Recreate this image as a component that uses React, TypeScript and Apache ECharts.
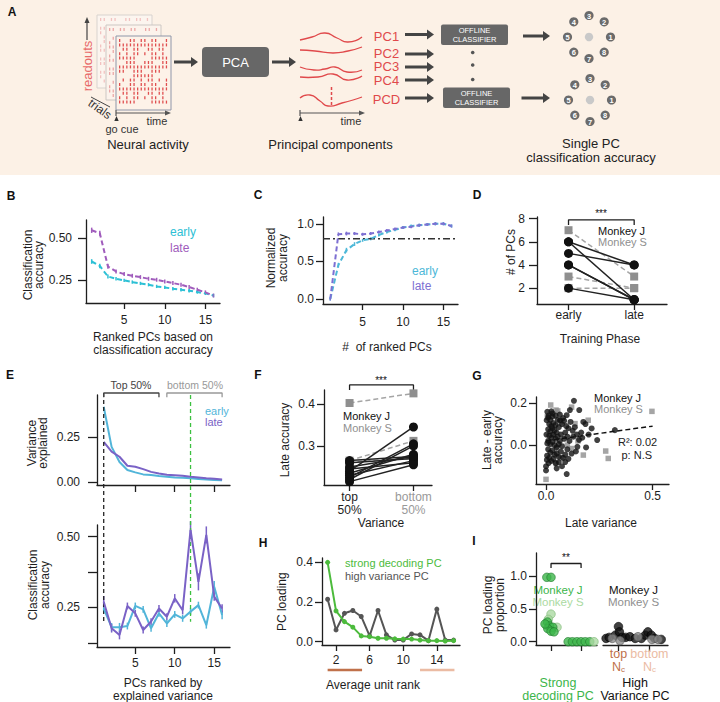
import React, { useEffect, useRef } from "react";
import * as echarts from "echarts";

const FONT = "'Liberation Sans', Arial, Helvetica, sans-serif";
const INK = "#1e1e1e";

// ---------------- Panel B: ranked by classification accuracy ----------------
const bRank = [1, 2, 3, 4, 5, 6, 7, 8, 9, 10, 11, 12, 13, 14, 15, 16];
const bEarly = [0.36, 0.333, 0.27, 0.256, 0.246, 0.236, 0.228, 0.22, 0.21, 0.204, 0.196, 0.19, 0.184, 0.176, 0.168, 0.155];
const bLate = [0.548, 0.53, 0.33, 0.3, 0.284, 0.274, 0.266, 0.256, 0.25, 0.24, 0.23, 0.22, 0.206, 0.19, 0.174, 0.155];
const bEarlyErr = [0.014, 0.013, 0.012, 0.01, 0.01, 0.01, 0.01, 0.01, 0.01, 0.01, 0.01, 0.01, 0.01, 0.01, 0.01, 0.01];
const bLateErr = [0.016, 0.015, 0.014, 0.012, 0.012, 0.012, 0.012, 0.012, 0.012, 0.012, 0.012, 0.012, 0.012, 0.012, 0.012, 0.012];

// ---------------- Panel C: normalized accuracy vs # ranked PCs ----------------
const cRank = [1, 2, 3, 4, 5, 6, 7, 8, 9, 10, 11, 12, 13, 14, 15, 16];
const cEarly = [0.0, 0.45, 0.65, 0.73, 0.78, 0.8, 0.85, 0.89, 0.92, 0.95, 0.97, 0.98, 0.99, 1.0, 1.0, 0.97];
const cLate = [0.0, 0.86, 0.87, 0.87, 0.86, 0.87, 0.89, 0.91, 0.93, 0.95, 0.96, 0.98, 0.99, 1.0, 1.0, 0.97];
const cEarlyErr = [0.02, 0.03, 0.03, 0.025, 0.02, 0.02, 0.02, 0.02, 0.02, 0.02, 0.02, 0.02, 0.02, 0.02, 0.02, 0.02];
const cLateErr = [0.02, 0.025, 0.025, 0.02, 0.02, 0.02, 0.02, 0.02, 0.02, 0.02, 0.02, 0.02, 0.02, 0.02, 0.02, 0.02];
const cThreshold = [0.8, 0.8];

// ---------------- Panel D: # of PCs, early vs late ----------------
const dPhases = ["early", "late"];
const dJEarly = [6, 6, 5, 4, 4, 2];
const dJLate = [4, 1, 4, 1, 1, 1];
const dSEarly = [7, 3, 2];
const dSLate = [3, 2, 2];

// ---------------- Panel E: ranked by explained variance ----------------
const eRank = [1, 2, 3, 4, 5, 6, 7, 8, 9, 10, 11, 12, 13, 14, 15, 16];
const eVarEarly = [0.417, 0.194, 0.11, 0.065, 0.052, 0.041, 0.037, 0.032, 0.028, 0.024, 0.022, 0.02, 0.016, 0.012, 0.01, 0.008];
const eVarLate = [0.222, 0.167, 0.139, 0.089, 0.083, 0.07, 0.055, 0.046, 0.039, 0.036, 0.033, 0.028, 0.024, 0.019, 0.017, 0.013];
const eAccEarly = [0.246, 0.18, 0.18, 0.184, 0.255, 0.243, 0.176, 0.229, 0.193, 0.225, 0.211, 0.235, 0.258, 0.187, 0.323, 0.223];
const eAccLate = [0.27, 0.176, 0.152, 0.255, 0.229, 0.17, 0.2, 0.246, 0.217, 0.282, 0.24, 0.524, 0.34, 0.506, 0.288, 0.246];
const eAccEarlyErr = [0.015, 0.015, 0.015, 0.012, 0.012, 0.012, 0.012, 0.012, 0.012, 0.012, 0.012, 0.012, 0.012, 0.012, 0.02, 0.015];
const eAccLateErr = [0.02, 0.015, 0.015, 0.012, 0.012, 0.012, 0.012, 0.012, 0.012, 0.015, 0.015, 0.03, 0.03, 0.03, 0.015, 0.015];
const eTopHalf = [1, 8];
const eBottomHalf = [9, 16];
const eMarkFirst = 1;
const eMarkStrong = 12;

// ---------------- Panel F: late accuracy, top vs bottom 50% ----------------
const fJTop = [0.24, 0.225, 0.22, 0.235, 0.25, 0.26, 0.23, 0.245, 0.215, 0.265];
const fJBottom = [0.345, 0.305, 0.3, 0.28, 0.275, 0.27, 0.265, 0.26, 0.255, 0.275];
const fSTop = [0.402, 0.265, 0.262];
const fSBottom = [0.425, 0.312, 0.27];

// ---------------- Panel G: late - early accuracy vs late variance ----------------
const gMonkeyJ = [
  [0.131, 0.21], [0.112, 0.166], [0.156, 0.166], [0.097, 0.142], [0.066, 0.118], [0.08, 0.128], [0.006, 0.158],
  [0.003, 0.118], [0.006, 0.008], [0.0, -0.1], [0.0, -0.12], [0.097, -0.137], [0.05, -0.11], [0.175, 0.11],
  [0.185, 0.1], [0.214, 0.079], [0.24, 0.024], [0.323, 0.071], [0.128, 0.04], [0.147, -0.008], [0.188, -0.011],
  [0.125, 0.068], [0.01, 0.13], [0.02, 0.12], [0.03, 0.135], [0.015, 0.1], [0.025, 0.09], [0.035, 0.105],
  [0.045, 0.095], [0.01, 0.075], [0.02, 0.065], [0.03, 0.08], [0.04, 0.07], [0.05, 0.06], [0.06, 0.085],
  [0.07, 0.05], [0.015, 0.045], [0.025, 0.035], [0.035, 0.05], [0.045, 0.03], [0.055, 0.04], [0.065, 0.02],
  [0.01, 0.02], [0.02, 0.005], [0.03, 0.015], [0.04, 0.0], [0.05, -0.01], [0.06, 0.005], [0.075, -0.005],
  [0.085, 0.03], [0.09, 0.06], [0.1, 0.04], [0.11, 0.02], [0.1, -0.02], [0.01, -0.02], [0.02, -0.035],
  [0.03, -0.025], [0.04, -0.045], [0.05, -0.04], [0.06, -0.055], [0.07, -0.03], [0.08, -0.06], [0.09, -0.045],
  [0.015, -0.06], [0.025, -0.075], [0.035, -0.065], [0.045, -0.085], [0.06, -0.08], [0.075, -0.1], [0.005, -0.05],
  [0.012, -0.085], [0.03, 0.15], [0.045, 0.14], [0.055, 0.12], [0.065, 0.145], [0.075, 0.1], [0.085, 0.115],
  [0.095, 0.09], [0.105, 0.08], [0.115, 0.11], [0.135, 0.085], [0.145, 0.05], [0.155, 0.025], [0.165, 0.06],
  [0.12, -0.04], [0.14, -0.03], [0.09, -0.08], [0.105, -0.065], [0.002, 0.05], [0.004, -0.07], [0.17, 0.035],
  [0.2, 0.05], [0.025, 0.16], [0.012, 0.14],
];
const gMonkeyS = [
  [0.0, -0.162], [0.022, 0.19], [0.047, 0.166], [0.055, 0.162], [0.12, 0.18], [0.198, 0.118], [0.28, -0.028],
  [0.292, -0.063], [0.175, -0.047], [0.12, -0.016], [0.047, -0.087], [0.497, 0.16], [0.006, 0.134], [0.066, 0.11],
  [0.136, 0.102], [0.05, -0.016], [0.03, 0.05], [0.07, -0.06], [0.1, 0.0], [0.15, 0.02],
];
const gFit = [[0.0, 0.021], [0.5, 0.09]];

// ---------------- Panel H: PC loading vs average unit rank ----------------
const hRank = [1, 2, 3, 4, 5, 6, 7, 8, 9, 10, 11, 12, 13, 14, 15, 16];
const hStrong = [0.4, 0.155, 0.101, 0.073, 0.029, 0.025, 0.017, 0.017, 0.014, 0.013, 0.013, 0.008, 0.005, 0.005, 0.003, 0.005];
const hHighVar = [0.214, 0.059, 0.143, 0.157, 0.127, 0.029, 0.157, 0.034, 0.008, 0.008, 0.039, 0.034, 0.005, 0.164, 0.008, 0.008];
const hTopUnits = [1, 5.1];
const hBottomUnits = [12, 16.1];

// ---------------- Panel I: PC loading proportion ----------------
const iStrongTopJ = [[-0.14, 0.98], [0.0, 0.98], [-0.12, 0.3], [-0.05, 0.24], [0.06, 0.22], [-0.11, 0.2], [0.0, 0.16], [0.1, 0.15], [-0.2, 0.27]];
const iStrongTopS = [[0.0, 0.42], [-0.09, 0.34], [0.2, 0.22], [-0.15, 0.25]];
const iStrongBottomJ = [[0.57, 0], [0.71, 0], [0.86, 0], [1.0, 0], [1.14, 0], [1.29, 0]];
const iStrongBottomS = [[1.43, 0]];
const iHighJ = [
  [-0.4, 0.05], [-0.3, 0.066], [-0.1, 0.1], [0.0, 0.23], [0.03, 0.15], [0.12, 0.066], [0.23, 0.066], [0.37, 0.076],
  [0.54, 0.05], [0.74, 0.05], [0.87, 0.1], [0.95, 0.15], [1.06, 0.1], [1.17, 0.05], [1.38, 0.035],
];
const iHighS = [[-0.2, 0.05], [0.05, 0.015], [0.63, 0.076], [1.08, 0.035], [1.28, 0.035]];

// ---------------- helpers ----------------
type AxSpec = {
  min: number; max: number; ticks: number[]; labels?: number[];
  fmt?: (v: number) => string; margin?: number; rich?: any; tickLen?: number;
};

function mkX(gi: number, s: AxSpec) {
  const hasLabels = !!(s.labels && s.labels.length);
  return {
    gridIndex: gi, type: "value", min: s.min, max: s.max, position: "bottom",
    axisLine: { show: true, onZero: false, lineStyle: { color: INK, width: 1.3 } },
    axisTick: { show: s.ticks.length > 0, length: s.tickLen ?? 6, customValues: s.ticks, lineStyle: { color: INK, width: 1.3 } },
    axisLabel: {
      show: hasLabels, customValues: hasLabels ? s.labels : undefined, formatter: s.fmt,
      margin: s.margin ?? 8, color: INK, fontSize: 12, fontFamily: FONT, rich: s.rich,
    },
    splitLine: { show: false },
  };
}
function mkY(gi: number, s: AxSpec) {
  const hasLabels = !!(s.labels && s.labels.length);
  return {
    gridIndex: gi, type: "value", min: s.min, max: s.max, position: "left",
    axisLine: { show: true, onZero: false, lineStyle: { color: INK, width: 1.3 } },
    axisTick: { show: s.ticks.length > 0, length: s.tickLen ?? 6, customValues: s.ticks, lineStyle: { color: INK, width: 1.3 } },
    axisLabel: {
      show: hasLabels, customValues: hasLabels ? s.labels : undefined, formatter: s.fmt,
      margin: s.margin ?? 10, color: INK, fontSize: 12, fontFamily: FONT,
    },
    splitLine: { show: false },
  };
}

const f1 = (v: number) => v.toFixed(1);
const f2 = (v: number) => v.toFixed(2);

function lineS(gi: number, data: number[][], color: string, width = 2, dash: any = "solid", extra: any = {}) {
  return {
    type: "line", xAxisIndex: gi, yAxisIndex: gi, data, showSymbol: false, symbol: "none",
    lineStyle: { color, width, type: dash }, itemStyle: { color }, silent: true, ...extra,
  };
}
function errS(gi: number, xs: number[], ys: number[], es: number[], color: string, width = 1.5) {
  return {
    type: "custom", xAxisIndex: gi, yAxisIndex: gi, silent: true,
    data: xs.map((x, i) => [x, ys[i], es[i]]),
    encode: { x: 0, y: 1 },
    renderItem: (_p: any, api: any) => {
      const x = api.value(0), y = api.value(1), e = api.value(2);
      const a = api.coord([x, y - e]);
      const b = api.coord([x, y + e]);
      return { type: "line", shape: { x1: a[0], y1: a[1], x2: b[0], y2: b[1] }, style: { stroke: color, lineWidth: width } };
    },
  };
}
function pairS(gi: number, a: number[], b: number[], color: string, lineColor: string, symbol: string, size: number, dash: any) {
  return a.map((v, i) => ({
    type: "line", xAxisIndex: gi, yAxisIndex: gi, data: [[0, v], [1, b[i]]], symbol, symbolSize: size,
    showSymbol: true, lineStyle: { color: lineColor, width: 1.5, type: dash }, itemStyle: { color, opacity: 1 }, silent: true,
  }));
}
function txt(x: number, y: number, text: string, color = INK, size = 12, align = "center", extra: any = {}) {
  return {
    type: "text", x, y, silent: true, ...extra,
    style: { text, fill: color, fontSize: size, fontFamily: FONT, align, verticalAlign: "middle", lineHeight: size, ...(extra.style || {}) },
  };
}
function vtxt(x: number, y: number, text: string, size = 12, lh = 12) {
  return {
    type: "text", x, y, rotation: Math.PI / 2, silent: true,
    style: { text, fill: INK, fontSize: size, fontFamily: FONT, align: "center", verticalAlign: "middle", lineHeight: lh },
  };
}
function bold(x: number, y: number, t: string) {
  return { type: "text", x, y, silent: true, style: { text: t, fill: "#111", fontSize: 12, fontWeight: "bold", fontFamily: FONT, align: "center", verticalAlign: "middle" } };
}
function hArrow(x1: number, x2: number, y: number, color = "#444", w = 3, head = 7) {
  return [
    { type: "line", silent: true, shape: { x1, y1: y, x2: x2 - head + 1, y2: y }, style: { stroke: color, lineWidth: w } },
    { type: "polygon", silent: true, shape: { points: [[x2 - head, y - head * 0.7], [x2, y], [x2 - head, y + head * 0.7]] }, style: { fill: color } },
  ];
}
function raster(x0: number, y0: number, w: number, h: number, color: string, seed: number) {
  const els: any[] = [];
  const rows = Math.floor((h - 4) / 4.4);
  const cols = Math.floor((w - 4) / 3.6);
  for (let r = 0; r < rows; r++) {
    for (let c = 0; c < cols; c++) {
      const v = (r * 37 + c * 23 + seed * 11 + r * c * 7) % 10;
      if (v < 6) {
        els.push({ type: "rect", silent: true, shape: { x: x0 + 3 + c * 3.6, y: y0 + 3 + r * 4.4, width: 1.3, height: 3 }, style: { fill: color } });
      }
    }
  }
  return els;
}
function targets(cx: number, cy: number) {
  const els: any[] = [{ type: "circle", silent: true, shape: { cx, cy, r: 4.2 }, style: { fill: "#c9c9c9" } }];
  for (let k = 1; k <= 8; k++) {
    const a = ((k - 1) * Math.PI) / 4;
    const x = cx + 21.5 * Math.cos(a);
    const y = cy - 21.5 * Math.sin(a);
    els.push({ type: "circle", silent: true, shape: { cx: x, cy: y, r: 4.6 }, style: { fill: "#6b6b6b" } });
    els.push({ type: "text", silent: true, x, y: y + 0.5, style: { text: String(k), fill: "#fff", fontSize: 7.5, fontWeight: "bold", fontFamily: FONT, align: "center", verticalAlign: "middle" } });
  }
  return els;
}

function buildOption() {
  const RED = "#e0494b";
  const graphic: any[] = [];
  // ---------- Panel A schematic ----------
  graphic.push({ type: "rect", silent: true, z: -1, shape: { x: 0, y: 0, width: 720, height: 175 }, style: { fill: "#fcf1e6" } });
  graphic.push(bold(12, 12, "A"));
  graphic.push({ type: "rect", silent: true, shape: { x: 97, y: 15, width: 55, height: 73 }, style: { fill: "#fcf5ef", stroke: "#d8d3cf", lineWidth: 1 } });
  graphic.push(...raster(97, 15, 55, 73, "#f2c2c0", 1));
  graphic.push({ type: "rect", silent: true, shape: { x: 106, y: 25, width: 55, height: 75 }, style: { fill: "#fcf3ec", stroke: "#ccc7c3", lineWidth: 1 } });
  graphic.push(...raster(106, 25, 55, 75, "#eba7a6", 2));
  graphic.push({ type: "rect", silent: true, shape: { x: 116, y: 36, width: 55, height: 74 }, style: { fill: "#fdf2e8", stroke: "#8e96a9", lineWidth: 1 } });
  graphic.push(...raster(116, 36, 55, 74, "#e04f50", 3));
  graphic.push({ type: "text", silent: true, x: 87, y: 66, rotation: Math.PI / 2, style: { text: "readouts", fill: "#e86a6a", fontSize: 13, fontFamily: FONT, align: "center", verticalAlign: "middle" } });
  graphic.push({ type: "line", silent: true, shape: { x1: 87, y1: 40, x2: 87, y2: 22 }, style: { stroke: "#444", lineWidth: 1.2 } });
  graphic.push({ type: "polygon", silent: true, shape: { points: [[84.5, 23], [87, 17], [89.5, 23]] }, style: { fill: "#444" } });
  graphic.push({ type: "line", silent: true, shape: { x1: 91, y1: 97, x2: 110, y2: 107 }, style: { stroke: "#444", lineWidth: 1 } });
  graphic.push({ type: "text", silent: true, x: 100, y: 109, rotation: -0.62, style: { text: "trials", fill: "#333", fontSize: 12, fontFamily: FONT, align: "center", verticalAlign: "middle" } });
  graphic.push({ type: "line", silent: true, shape: { x1: 116, y1: 113, x2: 167, y2: 113 }, style: { stroke: "#555", lineWidth: 1.2 } });
  graphic.push({ type: "line", silent: true, shape: { x1: 116, y1: 110, x2: 116, y2: 116 }, style: { stroke: "#555", lineWidth: 1.2 } });
  graphic.push({ type: "polygon", silent: true, shape: { points: [[165, 110.5], [171, 113], [165, 115.5]] }, style: { fill: "#555" } });
  graphic.push({ type: "polygon", silent: true, shape: { points: [[114.3, 121], [116.5, 116], [118.7, 121]] }, style: { fill: "#333" } });
  graphic.push(txt(157, 121, "time", "#333", 11));
  graphic.push(txt(122, 128.5, "go cue", "#333", 11));
  graphic.push(txt(148, 144, "Neural activity", "#222", 13));
  graphic.push(...hArrow(174, 198, 62));
  graphic.push({ type: "rect", silent: true, shape: { x: 202, y: 47, width: 67, height: 30, r: 4 }, style: { fill: "#676767" } });
  graphic.push(txt(235.5, 62, "PCA", "#fff", 13));
  graphic.push(...hArrow(272, 296, 62));
  const pcCurves = [
    [[300, 40], [312, 37], [325, 33], [337, 38], [348, 42], [362, 37]],
    [[300, 50], [315, 51], [333, 53], [348, 51], [362, 47]],
    [[300, 67], [314, 70], [325, 69], [335, 67], [347, 72], [362, 70]],
    [[300, 77], [318, 77], [333, 74], [347, 80], [362, 76]],
    [[300, 98], [310, 95], [320, 101], [328, 106], [342, 103], [362, 97]],
  ];
  pcCurves.forEach((pts) => graphic.push({ type: "polyline", silent: true, shape: { points: pts, smooth: 0.6 }, style: { stroke: RED, lineWidth: 1.3, fill: null } }));
  graphic.push({ type: "line", silent: true, shape: { x1: 331.5, y1: 87, x2: 331.5, y2: 105 }, style: { stroke: RED, lineWidth: 1.5, lineDash: [3, 2] } });
  graphic.push({ type: "line", silent: true, shape: { x1: 300, y1: 113, x2: 361, y2: 113 }, style: { stroke: "#555", lineWidth: 1.2 } });
  graphic.push({ type: "line", silent: true, shape: { x1: 300, y1: 110, x2: 300, y2: 116 }, style: { stroke: "#555", lineWidth: 1.2 } });
  graphic.push({ type: "polygon", silent: true, shape: { points: [[359, 110.5], [365, 113], [359, 115.5]] }, style: { fill: "#555" } });
  graphic.push({ type: "polygon", silent: true, shape: { points: [[298.3, 121], [300.5, 116], [302.7, 121]] }, style: { fill: "#333" } });
  graphic.push(txt(351, 121, "time", "#333", 11));
  graphic.push(txt(330.5, 144, "Principal components", "#222", 13));
  const pcLabels = ["PC1", "PC2", "PC3", "PC4", "PCD"];
  const pcY = [36.5, 53, 66.5, 80, 99];
  const arrowY = [34.5, 54, 67, 80, 98];
  pcLabels.forEach((t, i) => {
    graphic.push(txt(386.5, pcY[i], t, RED, 13));
    graphic.push(...hArrow(405, 434, arrowY[i]));
  });
  [[441, 24.5], [443, 87.5]].forEach(([x, y]) => {
    graphic.push({ type: "rect", silent: true, shape: { x, y, width: 67, height: 20.5, r: 2 }, style: { fill: "#676767" } });
    graphic.push({ type: "text", silent: true, x: x + 33.5, y: y + 10.5, style: { text: "OFFLINE\nCLASSIFIER", fill: "#fff", fontSize: 7.5, fontFamily: FONT, align: "center", verticalAlign: "middle", lineHeight: 8.5 } });
  });
  [52.5, 65, 79.5].forEach((y) => graphic.push({ type: "circle", silent: true, shape: { cx: 472.7, cy: y, r: 1.8 }, style: { fill: "#555" } }));
  graphic.push(...hArrow(523, 550, 36));
  graphic.push(...hArrow(521.5, 550, 98));
  graphic.push(...targets(589, 37));
  graphic.push(...targets(590, 100));
  graphic.push(txt(591, 143.5, "Single PC", "#222", 13));
  graphic.push(txt(591, 157, "classification accuracy", "#222", 13));

  // ---------- panel letters ----------
  graphic.push(bold(11, 196, "B"), bold(258, 195, "C"), bold(477, 195, "D"), bold(10, 375, "E"), bold(258, 375, "F"), bold(477, 376, "G"), bold(263, 543, "H"), bold(474, 541, "I"));

  // ---------- axis titles and legends ----------
  const B_E = "#2cc0d5", B_L = "#a05cbc";
  const C_E = "#4db8d8", C_L = "#7d6fd2";
  const E_E = "#52b5d9", E_L = "#7a62c6";
  const GRAY = "#8f8f8f";
  const GREEN = "#4cbb3c";
  const IJ = "#3cb54a", IS = "#abdaa2";
  const BROWN = "#c0714a", SALMON = "#ebbba3";

  graphic.push(vtxt(33.5, 265, "Classification\naccuracy", 12, 11));
  graphic.push(txt(153, 337, "Ranked PCs based on"), txt(153, 350, "classification accuracy"));
  graphic.push(txt(170, 232, "early", B_E, 12, "left"), txt(170, 248, "late", B_L, 12, "left"));

  graphic.push(vtxt(277, 258, "Normalized\naccuracy", 12, 12));
  graphic.push(txt(387, 347, "#  of ranked PCs"));
  graphic.push(txt(412, 271, "early", C_E, 12, "left"), txt(412, 286, "late", C_L, 12, "left"));

  graphic.push(vtxt(511, 252, "# of PCs", 12));
  graphic.push(txt(600, 339, "Training Phase"));
  graphic.push(txt(598, 231, "Monkey J", "#111", 11, "left"), txt(598, 242, "Monkey S", GRAY, 11, "left"));
  graphic.push(txt(601, 213.5, "***", "#111", 10));

  graphic.push(vtxt(37, 443, "Variance\nexplained", 12, 11));
  graphic.push(txt(131, 385, "Top 50%", "#444", 10.5), txt(195, 385, "bottom 50%", "#999", 10.5));
  graphic.push(txt(205, 411, "early", E_E, 11, "left"), txt(205, 422, "late", E_L, 11, "left"));
  graphic.push(vtxt(39, 585, "Classification\naccuracy", 12, 12));
  graphic.push(txt(163, 682.5, "PCs ranked by"), txt(163, 695.5, "explained variance"));

  graphic.push(vtxt(285, 440, "Late accuracy", 12));
  graphic.push(txt(381, 523, "Variance"));
  graphic.push(txt(343, 416, "Monkey J", "#111", 11, "left"), txt(343, 428, "Monkey S", GRAY, 11, "left"));
  graphic.push(txt(381, 380, "***", "#111", 10));

  graphic.push(vtxt(492, 440, "Late - early\naccuracy", 12, 11));
  graphic.push(txt(601, 523, "Late variance"));
  graphic.push(txt(594, 397.5, "Monkey J", "#111", 11, "left"), txt(594, 409, "Monkey S", GRAY, 11, "left"));
  graphic.push(txt(618, 441.5, "R\u00b2: 0.02", "#222", 11, "left"), txt(621.5, 455, "p: N.S", "#222", 11, "left"));

  graphic.push(vtxt(281.7, 601.7, "PC loading", 12));
  graphic.push(txt(373, 685, "Average unit rank"));
  graphic.push(txt(345, 562.5, "strong decoding PC", GREEN, 11, "left"), txt(345, 576, "high variance PC", "#555", 11, "left"));

  graphic.push(vtxt(494, 605, "PC loading\nproportion", 12, 12));
  graphic.push(txt(566, 557.5, "**", "#111", 10));
  graphic.push(txt(558, 590, "Monkey J", IJ, 11.5), txt(558, 601.5, "Monkey S", IS, 11.5));
  graphic.push(txt(633.5, 590, "Monkey J", "#111", 11.5), txt(633.5, 601.5, "Monkey S", GRAY, 11.5));
  graphic.push(txt(558, 682.5, "Strong", IJ, 12.5), txt(558, 695.5, "decoding PC", IJ, 12.5));
  graphic.push(txt(635, 682.5, "High", "#111", 12.5), txt(635, 695.5, "Variance PC", "#111", 12.5));

  // ---------- grids ----------
  const grid = [
    { left: 86, top: 220, width: 134, height: 83 }, // 0 B
    { left: 323, top: 217, width: 135, height: 87 }, // 1 C
    { left: 537, top: 217, width: 130, height: 87 }, // 2 D
    { left: 97, top: 395, width: 133, height: 90 }, // 3 E top
    { left: 97, top: 525, width: 133, height: 122 }, // 4 E bottom
    { left: 324, top: 390, width: 108, height: 95 }, // 5 F
    { left: 536, top: 397, width: 133, height: 87 }, // 6 G
    { left: 322, top: 558, width: 138, height: 87 }, // 7 H
    { left: 536, top: 553, width: 61, height: 92 }, // 8 I left
    { left: 603, top: 553, width: 65, height: 92 }, // 9 I right
  ];

  const xAxis: any[] = [
    mkX(0, { min: 0.3, max: 16.8, ticks: [5, 10, 15], labels: [5, 10, 15], fmt: (v) => String(v), margin: 11 }),
    mkX(1, { min: 0.1, max: 16.8, ticks: [5, 10, 15], labels: [5, 10, 15], fmt: (v) => String(v), margin: 12 }),
    mkX(2, { min: -0.48, max: 1.5, ticks: [0, 1], labels: [0, 1], fmt: (v) => dPhases[Math.round(v)], margin: 5 }),
    mkX(3, { min: 0.15, max: 17.0, ticks: [5, 10, 15], tickLen: 7 }),
    mkX(4, { min: 0.15, max: 17.0, ticks: [5, 10, 15], labels: [5, 10, 15], fmt: (v) => String(v), margin: 10, tickLen: 7 }),
    mkX(5, {
      min: -0.4, max: 1.29, ticks: [0, 1], labels: [0, 1], margin: 5,
      fmt: (v) => (v === 0 ? "{k|top}\n{k|50%}" : "{g|bottom}\n{g|50%}"),
      rich: { k: { color: INK, fontSize: 12, fontFamily: FONT, lineHeight: 13 }, g: { color: "#999", fontSize: 12, fontFamily: FONT, lineHeight: 13 } },
    }),
    mkX(6, { min: -0.047, max: 0.577, ticks: [0, 0.5], labels: [0, 0.5], fmt: f1, margin: 6 }),
    mkX(7, { min: 0.33, max: 16.76, ticks: [2, 6, 10, 14], labels: [2, 6, 10, 14], fmt: (v) => String(v), margin: 9 }),
    mkX(8, { min: -0.5, max: 1.53, ticks: [0, 1] }),
    mkX(9, {
      min: -0.5, max: 1.6, ticks: [0, 1], labels: [0, 1], margin: 2,
      fmt: (v) => (v === 0 ? "{o|top}\n{o|N}{os|c}" : "{p|bottom}\n{p|N}{ps|c}"),
      rich: {
        o: { color: BROWN, fontSize: 12.5, fontFamily: FONT, lineHeight: 13 },
        os: { color: BROWN, fontSize: 8, fontFamily: FONT, lineHeight: 13, verticalAlign: "bottom" },
        p: { color: SALMON, fontSize: 12.5, fontFamily: FONT, lineHeight: 13 },
        ps: { color: SALMON, fontSize: 8, fontFamily: FONT, lineHeight: 13, verticalAlign: "bottom" },
      },
    }),
  ];
  const yAxis: any[] = [
    mkY(0, { min: 0.11, max: 0.61, ticks: [0.25, 0.5], labels: [0.25, 0.5], fmt: f2, margin: 14, tickLen: 8 }),
    mkY(1, { min: -0.067, max: 1.09, ticks: [0, 0.5, 1], labels: [0, 0.5, 1], fmt: f1, margin: 9, tickLen: 7 }),
    mkY(2, { min: 0.63, max: 8.14, ticks: [2, 4, 6, 8], labels: [2, 4, 6, 8], fmt: (v) => String(v), margin: 12, tickLen: 8 }),
    mkY(3, { min: -0.018, max: 0.482, ticks: [0, 0.25], labels: [0, 0.25], fmt: f2, margin: 17, tickLen: 9 }),
    mkY(4, { min: 0.11, max: 0.541, ticks: [0.125, 0.25, 0.375, 0.5], labels: [0.25, 0.5], fmt: f2, margin: 17, tickLen: 9 }),
    mkY(5, { min: 0.207, max: 0.433, ticks: [0.3, 0.4], labels: [0.3, 0.4], fmt: f1, margin: 9, tickLen: 7 }),
    mkY(6, { min: -0.184, max: 0.228, ticks: [0, 0.2], labels: [0, 0.2], fmt: f1, margin: 9, tickLen: 7 }),
    mkY(7, { min: -0.017, max: 0.422, ticks: [0, 0.2, 0.4], labels: [0, 0.2, 0.4], fmt: f1, margin: 9, tickLen: 7 }),
    mkY(8, { min: -0.05, max: 1.35, ticks: [0, 0.5, 1], labels: [0, 0.5, 1], fmt: f1, margin: 9, tickLen: 7 }),
    { gridIndex: 9, type: "value", min: -0.05, max: 1.35, show: false },
  ];

  const pts = (xs: number[], ys: number[]) => xs.map((x, i) => [x, ys[i]]);
  const series: any[] = [];

  // B
  series.push(lineS(0, pts(bRank, bEarly), B_E, 2, [5, 3]));
  series.push(lineS(0, pts(bRank, bLate), B_L, 2, [5, 3]));
  series.push(errS(0, bRank, bEarly, bEarlyErr, B_E));
  series.push(errS(0, bRank, bLate, bLateErr, B_L));

  // C
  series.push(lineS(1, [[0.1, cThreshold[0]], [16.8, cThreshold[1]]], "#333", 1.5, [7, 3, 2, 3]));
  series.push(lineS(1, pts(cRank, cEarly), C_E, 2, [5, 3]));
  series.push(lineS(1, pts(cRank, cLate), C_L, 2, [5, 3]));
  series.push(errS(1, cRank, cEarly, cEarlyErr, C_E));
  series.push(errS(1, cRank, cLate, cLateErr, C_L));

  // D
  series.push(...pairS(2, dSEarly, dSLate, GRAY, "#a5a5a5", "rect", 8, [5, 3]));
  series.push(...pairS(2, dJEarly, dJLate, "#111", "#222", "circle", 9, "solid"));
  series.push(lineS(2, [[0, 7.45], [0, 7.9], [1, 7.9], [1, 7.45]], INK, 1.3, "solid", { clip: false }));

  // E top
  series.push(lineS(3, pts(eRank, eVarEarly), E_E, 2));
  series.push(lineS(3, pts(eRank, eVarLate), E_L, 2));
  series.push(lineS(3, [[eMarkFirst, 0.493], [eMarkFirst, -0.95]], "#222", 1.3, [4, 3], { clip: false }));
  series.push(lineS(3, [[eMarkStrong, 0.482], [eMarkStrong, -0.962]], "#3cc040", 1.3, [4, 3], { clip: false }));
  series.push(lineS(3, [[eTopHalf[0], 0.47], [eTopHalf[0], 0.493], [eTopHalf[1], 0.493], [eTopHalf[1], 0.47]], "#444", 1.3, "solid", { clip: false }));
  series.push(lineS(3, [[eBottomHalf[0], 0.47], [eBottomHalf[0], 0.493], [eBottomHalf[1], 0.493], [eBottomHalf[1], 0.47]], "#999", 1.3, "solid", { clip: false }));

  // E bottom
  series.push(lineS(4, pts(eRank, eAccEarly), E_E, 2));
  series.push(lineS(4, pts(eRank, eAccLate), E_L, 2));
  series.push(errS(4, eRank, eAccEarly, eAccEarlyErr, E_E));
  series.push(errS(4, eRank, eAccLate, eAccLateErr, E_L));

  // F
  series.push(...pairS(5, fSTop, fSBottom, GRAY, "#a5a5a5", "rect", 8, [5, 3]));
  series.push(...pairS(5, fJTop, fJBottom, "#111", "#222", "circle", 9, "solid"));
  series.push(lineS(5, [[0, 0.433], [0, 0.445], [1, 0.445], [1, 0.433]], INK, 1.3, "solid", { clip: false }));

  // G
  series.push({ type: "scatter", xAxisIndex: 6, yAxisIndex: 6, data: gMonkeyS, symbol: "rect", symbolSize: 5.5, itemStyle: { color: GRAY }, silent: true });
  series.push({ type: "scatter", xAxisIndex: 6, yAxisIndex: 6, data: gMonkeyJ, symbol: "circle", symbolSize: 6, itemStyle: { color: "#111" }, silent: true });
  series.push(lineS(6, gFit, "#111", 1.5, [5, 3]));

  // H
  series.push({
    type: "line", xAxisIndex: 7, yAxisIndex: 7, data: pts(hRank, hHighVar), symbol: "circle", symbolSize: 5, showSymbol: true,
    lineStyle: { color: "#555", width: 2 }, itemStyle: { color: "#555" }, silent: true,
  });
  series.push({
    type: "line", xAxisIndex: 7, yAxisIndex: 7, data: pts(hRank, hStrong), symbol: "circle", symbolSize: 5, showSymbol: true,
    lineStyle: { color: GREEN, width: 2 }, itemStyle: { color: GREEN }, silent: true,
  });
  series.push(lineS(7, [[hTopUnits[0], -0.143], [hTopUnits[1], -0.143]], BROWN, 2.5, "solid", { clip: false }));
  series.push(lineS(7, [[hBottomUnits[0], -0.143], [hBottomUnits[1], -0.143]], SALMON, 2.5, "solid", { clip: false }));

  // I
  const sc = (gi: number, data: number[][], color: string, border: string) => ({
    type: "scatter", xAxisIndex: gi, yAxisIndex: gi, data, symbol: "circle", symbolSize: 8.5,
    itemStyle: { color, borderColor: border, borderWidth: 0.8 }, silent: true, clip: false,
  });
  series.push(sc(8, iStrongTopS, IS, "#7fb878"));
  series.push(sc(8, iStrongTopJ, IJ, "#1f7a2c"));
  series.push(sc(8, iStrongBottomJ, IJ, "#1f7a2c"));
  series.push(sc(8, iStrongBottomS, IS, "#7fb878"));
  series.push(lineS(8, [[0, 1.12], [0, 1.19], [1, 1.19], [1, 1.12]], INK, 1.3, "solid", { clip: false }));
  series.push(sc(9, iHighJ, "#111", "#000"));
  series.push(sc(9, iHighS, "#8a8a8a", "#555"));

  return {
    animation: false,
    backgroundColor: "#ffffff",
    textStyle: { fontFamily: FONT },
    grid,
    xAxis,
    yAxis,
    series,
    graphic,
  };
}

export default function App() {
  const ref = useRef<HTMLDivElement>(null);
  useEffect(() => {
    if (!ref.current) return;
    const chart = echarts.init(ref.current, null, { renderer: "svg", width: 720, height: 702 });
    chart.setOption(buildOption() as any);
    return () => chart.dispose();
  }, []);
  return <div ref={ref} style={{ position: "absolute", left: 0, top: 0, width: 720, height: 702, background: "#fff" }} />;
}
